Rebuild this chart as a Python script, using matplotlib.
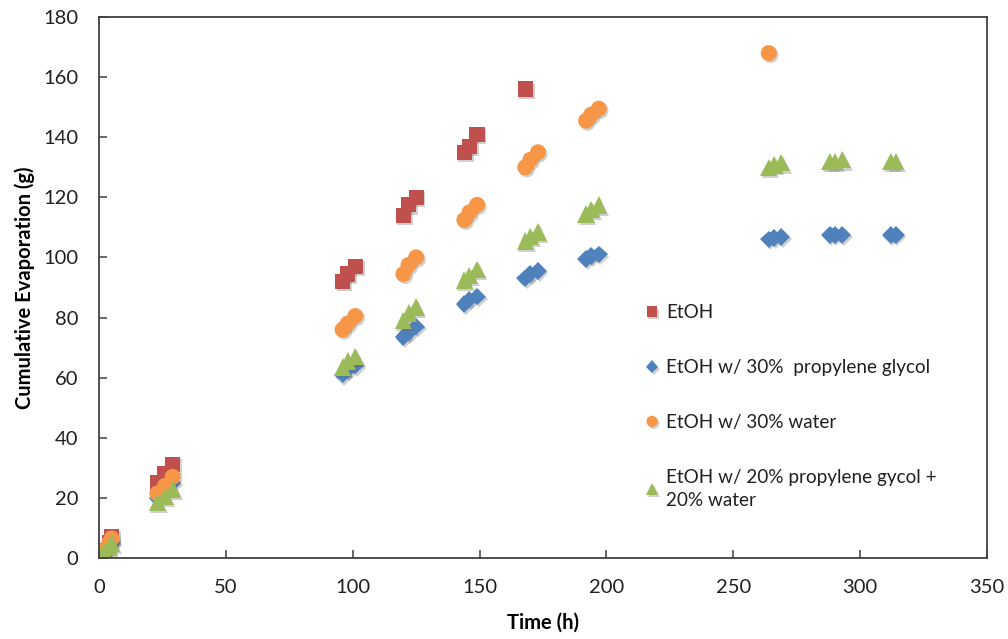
import numpy as np
import matplotlib
matplotlib.use('Agg')
from matplotlib import pyplot as plt
import matplotlib.patheffects as pe

# sampling times (h) for each series
t_etoh = [0, 1, 2, 4, 5, 23, 26, 29, 96, 98, 101, 120, 122, 125, 144, 146, 149, 168]
t_long = [0, 1, 2, 4, 5, 23, 26, 29, 96, 98, 101, 120, 122, 125, 144, 146, 149,
          168, 170, 173, 192, 194, 197, 264, 266, 269, 288, 290, 293, 312, 314]
t_water = [0, 1, 2, 4, 5, 23, 26, 29, 96, 98, 101, 120, 122, 125, 144, 146, 149,
           168, 170, 173, 192, 194, 197, 264]

# cumulative evaporation (g)
etoh = [0, 1.5, 2.5, 5, 7, 25, 28, 31, 92, 94.5, 97, 114, 117.5, 120, 135, 137, 141, 156]
etoh_pg30 = [0, 1, 2, 4, 5, 20, 22.5, 25, 61, 62.5, 64, 73.5, 75, 77, 84.5, 86, 87,
             93, 94.5, 95.5, 99.5, 100.5, 101, 106, 106.5, 106.8, 107.5, 107.5, 107.5, 107.5, 107.5]
etoh_w30 = [0, 1.5, 2.5, 5, 6.5, 21.5, 24, 27, 76, 78, 80.5, 94.5, 97.5, 100, 112.5, 115, 117.5,
            130, 132.5, 135, 145.5, 147.5, 149.5, 168]
etoh_pg20_w20 = [0, 1, 2, 3.5, 5, 18.5, 20.5, 23, 63.5, 65.5, 67, 79, 81.5, 83.5, 92.5, 94, 96,
                 105.5, 107, 108.5, 114.5, 116, 117.5, 130, 131, 131.5, 132, 132, 132.5, 132, 132]

labels = ['EtOH', 'EtOH w/ 30%  propylene glycol', 'EtOH w/ 30% water',
          'EtOH w/ 20% propylene gycol +\n20% water']

plt.rcParams['font.family'] = ['Lato', 'DejaVu Sans']

fig = plt.figure(figsize=(10.08, 6.39), dpi=100)
ax = fig.add_axes([99/1008, 1-558/639, (987-99)/1008, (558-17)/639])

shadow = [pe.SimplePatchShadow(offset=(1.2, -1.5), shadow_rgbFace='#666666', alpha=0.3), pe.Normal()]

ax.plot(t_etoh, etoh, 's', color='#C0504D', ms=11, mew=0, label=labels[0], path_effects=shadow)
ax.plot(t_long, etoh_pg30, 'D', color='#4F81BD', ms=9, mew=0, label=labels[1], path_effects=shadow)
ax.plot(t_water, etoh_w30, 'o', color='#F79646', ms=11.5, mew=0, label=labels[2], path_effects=shadow)
ax.plot(t_long, etoh_pg20_w20, '^', color='#9BBB59', ms=12.5, mew=0, label=labels[3], path_effects=shadow)

ax.set_xlim(0, 350)
ax.set_ylim(0, 180)
ax.set_xticks(np.arange(0, 351, 50))
ax.set_yticks(np.arange(0, 181, 20))
ax.tick_params(direction='in', length=6, width=1.1, color='#404040', labelsize=14.5,
               labelcolor='#202020')
ax.tick_params(axis='x', pad=15)
ax.tick_params(axis='y', pad=15)
for s in ax.spines.values():
    s.set_color('#404040')
    s.set_linewidth(1.3)

ax.set_xlabel('Time (h)', fontsize=14.5, fontweight='bold', labelpad=12)
ax.set_ylabel('Cumulative Evaporation (g)', fontsize=14.5, fontweight='bold', labelpad=6)

leg = ax.legend(loc='upper left', bbox_to_anchor=(636/1008, 1-295/639), bbox_transform=fig.transFigure,
                frameon=False, fontsize=13.6, handlelength=0.7, handletextpad=0.4,
                labelspacing=2.0, markerscale=0.7, borderpad=0)
for txt in leg.get_texts():
    txt.set_linespacing(1.45)
    txt.set_color('#202020')

fig.savefig('out.png', dpi=100)
